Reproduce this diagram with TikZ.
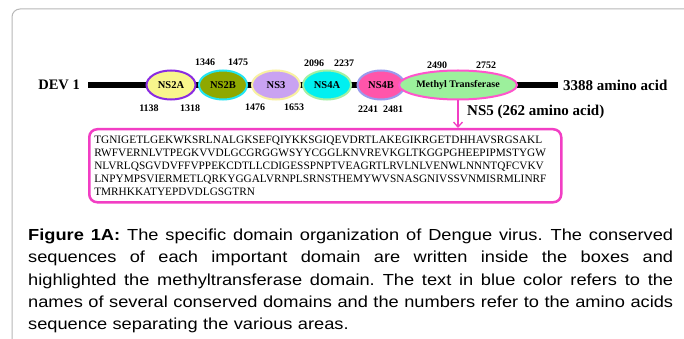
\documentclass[tikz,border=0pt]{standalone}
\usepackage{fontspec}
\setmainfont{Liberation Serif}
\newfontfamily\capfont[FakeStretch=1.14]{Liberation Sans}
\usetikzlibrary{shapes.geometric,arrows.meta}
\definecolor{framegray}{HTML}{B8B8B8}
\definecolor{ns2afill}{HTML}{F8F58C}
\definecolor{ns2aline}{HTML}{8A2BE2}
\definecolor{ns2bfill}{HTML}{8FA800}
\definecolor{ns2bline}{HTML}{22E4F2}
\definecolor{ns3fill}{HTML}{C9A2F2}
\definecolor{ns3line}{HTML}{F8F0A0}
\definecolor{ns4afill}{HTML}{00F0F0}
\definecolor{ns4aline}{HTML}{A2F0A2}
\definecolor{ns4bfill}{HTML}{FF55AA}
\definecolor{ns4bline}{HTML}{9A9AEE}
\definecolor{mtfill}{HTML}{9CF09C}
\definecolor{mtline}{HTML}{FF55CC}
\definecolor{seqline}{HTML}{F23EC4}
% one justified line of the caption
\newcommand{\capline}[1]{\leavevmode\hbox to 645pt{\spaceskip=.27em plus 1fil\relax #1}}

\begin{document}
\begin{tikzpicture}[x=1pt,y=-1pt,
    dom/.style={shape=ellipse,line width=2pt,inner sep=0pt,minimum height=29pt,font=\bfseries\fontsize{10.5}{12}\selectfont},
    num/.style={inner sep=0pt,font=\bfseries\fontsize{10}{12}\selectfont},
    big/.style={inner sep=0pt,font=\bfseries\fontsize{15}{17}\selectfont}]
\useasboundingbox (0,0) rectangle (684,339);
\fill[white] (0,0) rectangle (684,339);
% frame of the figure
\draw[framegray,line width=1pt,rounded corners=8pt] (12,339) -- (12,9) -- (684,9);

% protein backbone
\node[big,font=\bfseries\fontsize{14.5}{17}\selectfont,anchor=east] (dev) at (80,85) {DEV 1};
\node[big,anchor=west] (total) at (563,85) {3388 amino acid};
\draw[line width=6pt] ([xshift=8pt]dev.east) -- ([xshift=-5pt]total.west);

% domains
\node[dom,draw=ns2aline,fill=ns2afill,minimum width=49pt] (ns2a) at (171,85) {NS2A};
\node[dom,draw=ns2bline,fill=ns2bfill,minimum width=48pt] (ns2b) at (223,85) {NS2B};
\node[dom,draw=ns3line,fill=ns3fill,minimum width=48pt] (ns3) at (276,85) {NS3};
\node[dom,draw=ns4aline,fill=ns4afill,minimum width=48pt] (ns4a) at (327,85) {NS4A};
\node[dom,draw=ns4bline,fill=ns4bfill,minimum width=47pt] (ns4b) at (381,85) {NS4B};
\node[dom,draw=mtline,fill=mtfill,minimum width=105pt,font=\bfseries\fontsize{10}{12}\selectfont] (mt) at (458,85) {Methyl Transferase};

% amino acid positions
\node[num] (p1346) at (205,62) {1346};
\node[num] (p1475) at (238,62) {1475};
\node[num] (p2096) at (314,63) {2096};
\node[num] (p2237) at (344,63) {2237};
\node[num] (p2490) at (437,65) {2490};
\node[num] (p2752) at (486,65) {2752};
\node[num] (p1138) at (149,108) {1138};
\node[num] (p1318) at (190,108) {1318};
\node[num] (p1476) at (255,107) {1476};
\node[num] (p1653) at (294,107) {1653};
\node[num] (p2241) at (368,109) {2241};
\node[num] (p2481) at (393,109) {2481};

% NS5 sequence
\node[big,anchor=west] (ns5) at (467,112) {NS5 (262 amino acid)};
\node[draw=seqline,line width=2.5pt,rounded corners=8pt,anchor=north west,text width=462pt,minimum height=73pt,inner xsep=5pt,inner ysep=4pt,align=left,font=\fontsize{11.3}{12.9}\selectfont] (seq) at (88,128)
  {TGNIGETLGEKWKSRLNALGKSEFQIYKKSGIQEVDRTLAKEGIKRGETDHHAVSRGSAKL\\
   RWFVERNLVTPEGKVVDLGCGRGGWSYYCGGLKNVREVKGLTKGGPGHEEPIPMSTYGW\\
   NLVRLQSGVDVFFVPPEKCDTLLCDIGESSPNPTVEAGRTLRVLNLVENWLNNNTQFCVKV\\
   LNPYMPSVIERMETLQRKYGGALVRNPLSRNSTHEMYWVSNASGNIVSSVNMISRMLINRF\\
   TMRHKKATYEPDVDLGSGTRN};
\draw[seqline,line width=1.3pt,-{Straight Barb[length=5pt,width=9pt]}] (mt.south) -- (mt.south |- seq.north);

% caption
\node[inner sep=0pt,anchor=north west,text width=645pt,align=left,font=\capfont\fontsize{16}{22.2}\selectfont] (caption) at (28,229)
  {\capline{\textbf{Figure 1A:} The specific domain organization of Dengue virus. The conserved}\\
   \capline{sequences of each important domain are written inside the boxes and}\\
   \capline{highlighted the methyltransferase domain. The text in blue color refers to the}\\
   \capline{names of several conserved domains and the numbers refer to the amino acids}\\
   sequence separating the various areas.};
\end{tikzpicture}
\end{document}
